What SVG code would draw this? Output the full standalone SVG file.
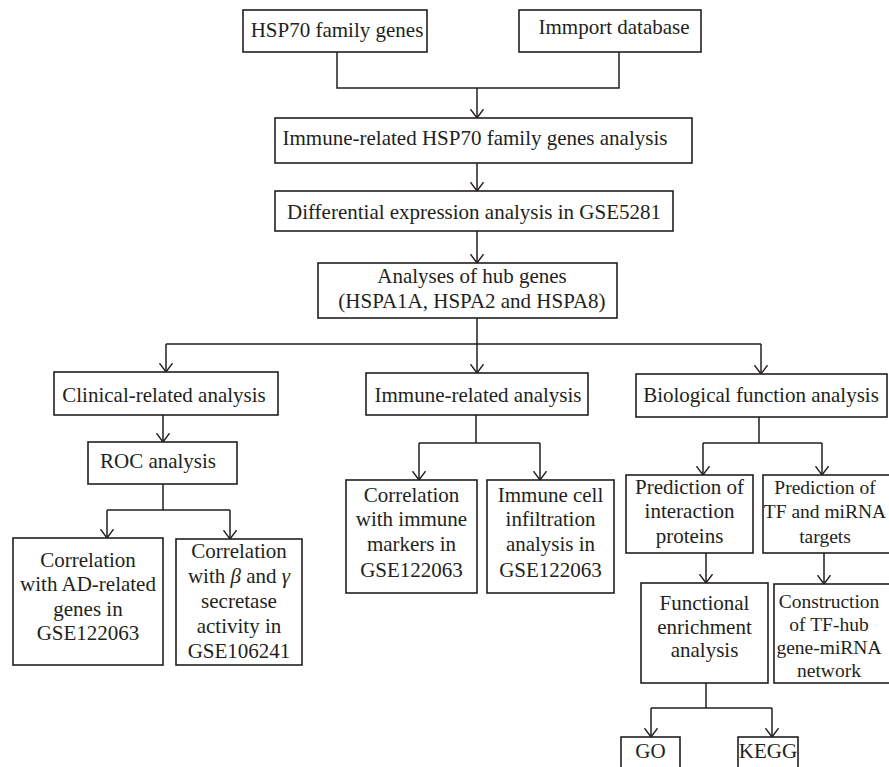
<svg xmlns="http://www.w3.org/2000/svg" width="889" height="767" viewBox="0 0 889 767">
<style>
.box{fill:#fff;stroke:#231f20;stroke-width:1.6}
.ln{fill:none;stroke:#231f20;stroke-width:1.5}
text{font-family:"Liberation Serif","Times New Roman",serif;font-size:21px;fill:#231f20;text-anchor:middle}
.it{font-style:italic}
.sm{font-size:19.5px}
</style>
<defs>
<marker id="arr" viewBox="0 0 10 14" refX="9.3" refY="7" markerWidth="10" markerHeight="14" markerUnits="userSpaceOnUse" orient="auto">
<path d="M0.5,0.5 L9.3,7 L0.5,13.5" fill="none" stroke="#231f20" stroke-width="1.4"/>
</marker>
</defs>
<rect width="889" height="767" fill="#fff"/>
<g id="connectors">
<path class="ln" d="M337,52 V88 H619 V52"/>
<path class="ln" d="M477,88 V118" marker-end="url(#arr)"/>
<path class="ln" d="M477,163 V191" marker-end="url(#arr)"/>
<path class="ln" d="M477,231 V263" marker-end="url(#arr)"/>
<path class="ln" d="M477,318 V344 M166,344 H761"/>
<path class="ln" d="M166,344 V372" marker-end="url(#arr)"/>
<path class="ln" d="M477,344 V373" marker-end="url(#arr)"/>
<path class="ln" d="M761,344 V374" marker-end="url(#arr)"/>
<path class="ln" d="M163,415 V442" marker-end="url(#arr)"/>
<path class="ln" d="M163,484 V510 M107,510 H230"/>
<path class="ln" d="M107,510 V538" marker-end="url(#arr)"/>
<path class="ln" d="M230,510 V539" marker-end="url(#arr)"/>
<path class="ln" d="M476,415 V443 M419,443 H540"/>
<path class="ln" d="M419,443 V480" marker-end="url(#arr)"/>
<path class="ln" d="M540,443 V480" marker-end="url(#arr)"/>
<path class="ln" d="M759,417 V443 M703,443 H822"/>
<path class="ln" d="M703,443 V475" marker-end="url(#arr)"/>
<path class="ln" d="M822,443 V475" marker-end="url(#arr)"/>
<path class="ln" d="M706,553 V583" marker-end="url(#arr)"/>
<path class="ln" d="M824,553 V584" marker-end="url(#arr)"/>
<path class="ln" d="M706,683 V708 M651,708 H772"/>
<path class="ln" d="M651,708 V737" marker-end="url(#arr)"/>
<path class="ln" d="M772,708 V737" marker-end="url(#arr)"/>
</g>
<g id="hsp70"><rect class="box" x="243" y="10" width="184" height="42"/><text x="337" y="37">HSP70 family genes</text></g>
<g id="immport"><rect class="box" x="519" y="10" width="182" height="42"/><text x="614" y="34">Immport database</text></g>
<g id="immune-hsp70"><rect class="box" x="275" y="118" width="417" height="45"/><text x="475" y="145">Immune-related HSP70 family genes analysis</text></g>
<g id="differential"><rect class="box" x="275" y="191" width="398" height="40"/><text x="474" y="219">Differential expression analysis in GSE5281</text></g>
<g id="hub"><rect class="box" x="318" y="263" width="299" height="55"/><text x="472" y="283">Analyses of hub genes</text><text x="472" y="308">(HSPA1A, HSPA2 and HSPA8)</text></g>
<g id="clinical"><rect class="box" x="54" y="372" width="224" height="43"/><text x="164" y="402">Clinical-related analysis</text></g>
<g id="roc"><rect class="box" x="88" y="442" width="149" height="42"/><text x="158" y="468">ROC analysis</text></g>
<g id="ad-genes"><rect class="box" x="13" y="538" width="150" height="127"/><text x="88" y="567">Correlation</text><text x="88" y="591">with AD-related</text><text x="88" y="616">genes in</text><text x="88" y="640">GSE122063</text></g>
<g id="secretase"><rect class="box" x="176" y="539" width="126" height="126"/><text x="239" y="558">Correlation</text><text x="239" y="583">with <tspan class="it">β</tspan> and <tspan class="it">γ</tspan></text><text x="239" y="608">secretase</text><text x="239" y="633">activity in</text><text x="239" y="658">GSE106241</text></g>
<g id="immune-related"><rect class="box" x="366" y="373" width="222" height="42"/><text x="478" y="402">Immune-related analysis</text></g>
<g id="markers"><rect class="box" x="346" y="480" width="131" height="113"/><text x="411.5" y="502">Correlation</text><text x="411.5" y="526">with immune</text><text x="411.5" y="551">markers in</text><text x="411.5" y="577">GSE122063</text></g>
<g id="infiltration"><rect class="box" x="487" y="480" width="127" height="113"/><text x="550.5" y="502">Immune cell</text><text x="550.5" y="526">infiltration</text><text x="550.5" y="551">analysis in</text><text x="550.5" y="577">GSE122063</text></g>
<g id="biological"><rect class="box" x="636" y="374" width="251" height="43"/><text x="761" y="402">Biological function analysis</text></g>
<g id="pred-interaction"><rect class="box" x="626" y="475" width="127" height="78"/><text x="689.5" y="494">Prediction of</text><text x="689.5" y="518">interaction</text><text x="689.5" y="543">proteins</text></g>
<g id="pred-tf"><rect class="box" x="763" y="475" width="134" height="78"/><text class="sm" x="825" y="494">Prediction of</text><text class="sm" x="825" y="518">TF and miRNA</text><text class="sm" x="825" y="543">targets</text></g>
<g id="functional"><rect class="box" x="641" y="583" width="127" height="100"/><text x="704.5" y="610">Functional</text><text x="704.5" y="634">enrichment</text><text x="704.5" y="657">analysis</text></g>
<g id="construction"><rect class="box" x="774" y="584" width="126" height="99"/><text class="sm" x="829" y="608">Construction</text><text class="sm" x="829" y="631">of TF-hub</text><text class="sm" x="829" y="654">gene-miRNA</text><text class="sm" x="829" y="677">network</text></g>
<g id="go"><rect class="box" x="621" y="737" width="59" height="40"/><text x="650.5" y="758">GO</text></g>
<g id="kegg"><rect class="box" x="738" y="737" width="60" height="40"/><text x="768" y="758">KEGG</text></g>
</svg>
